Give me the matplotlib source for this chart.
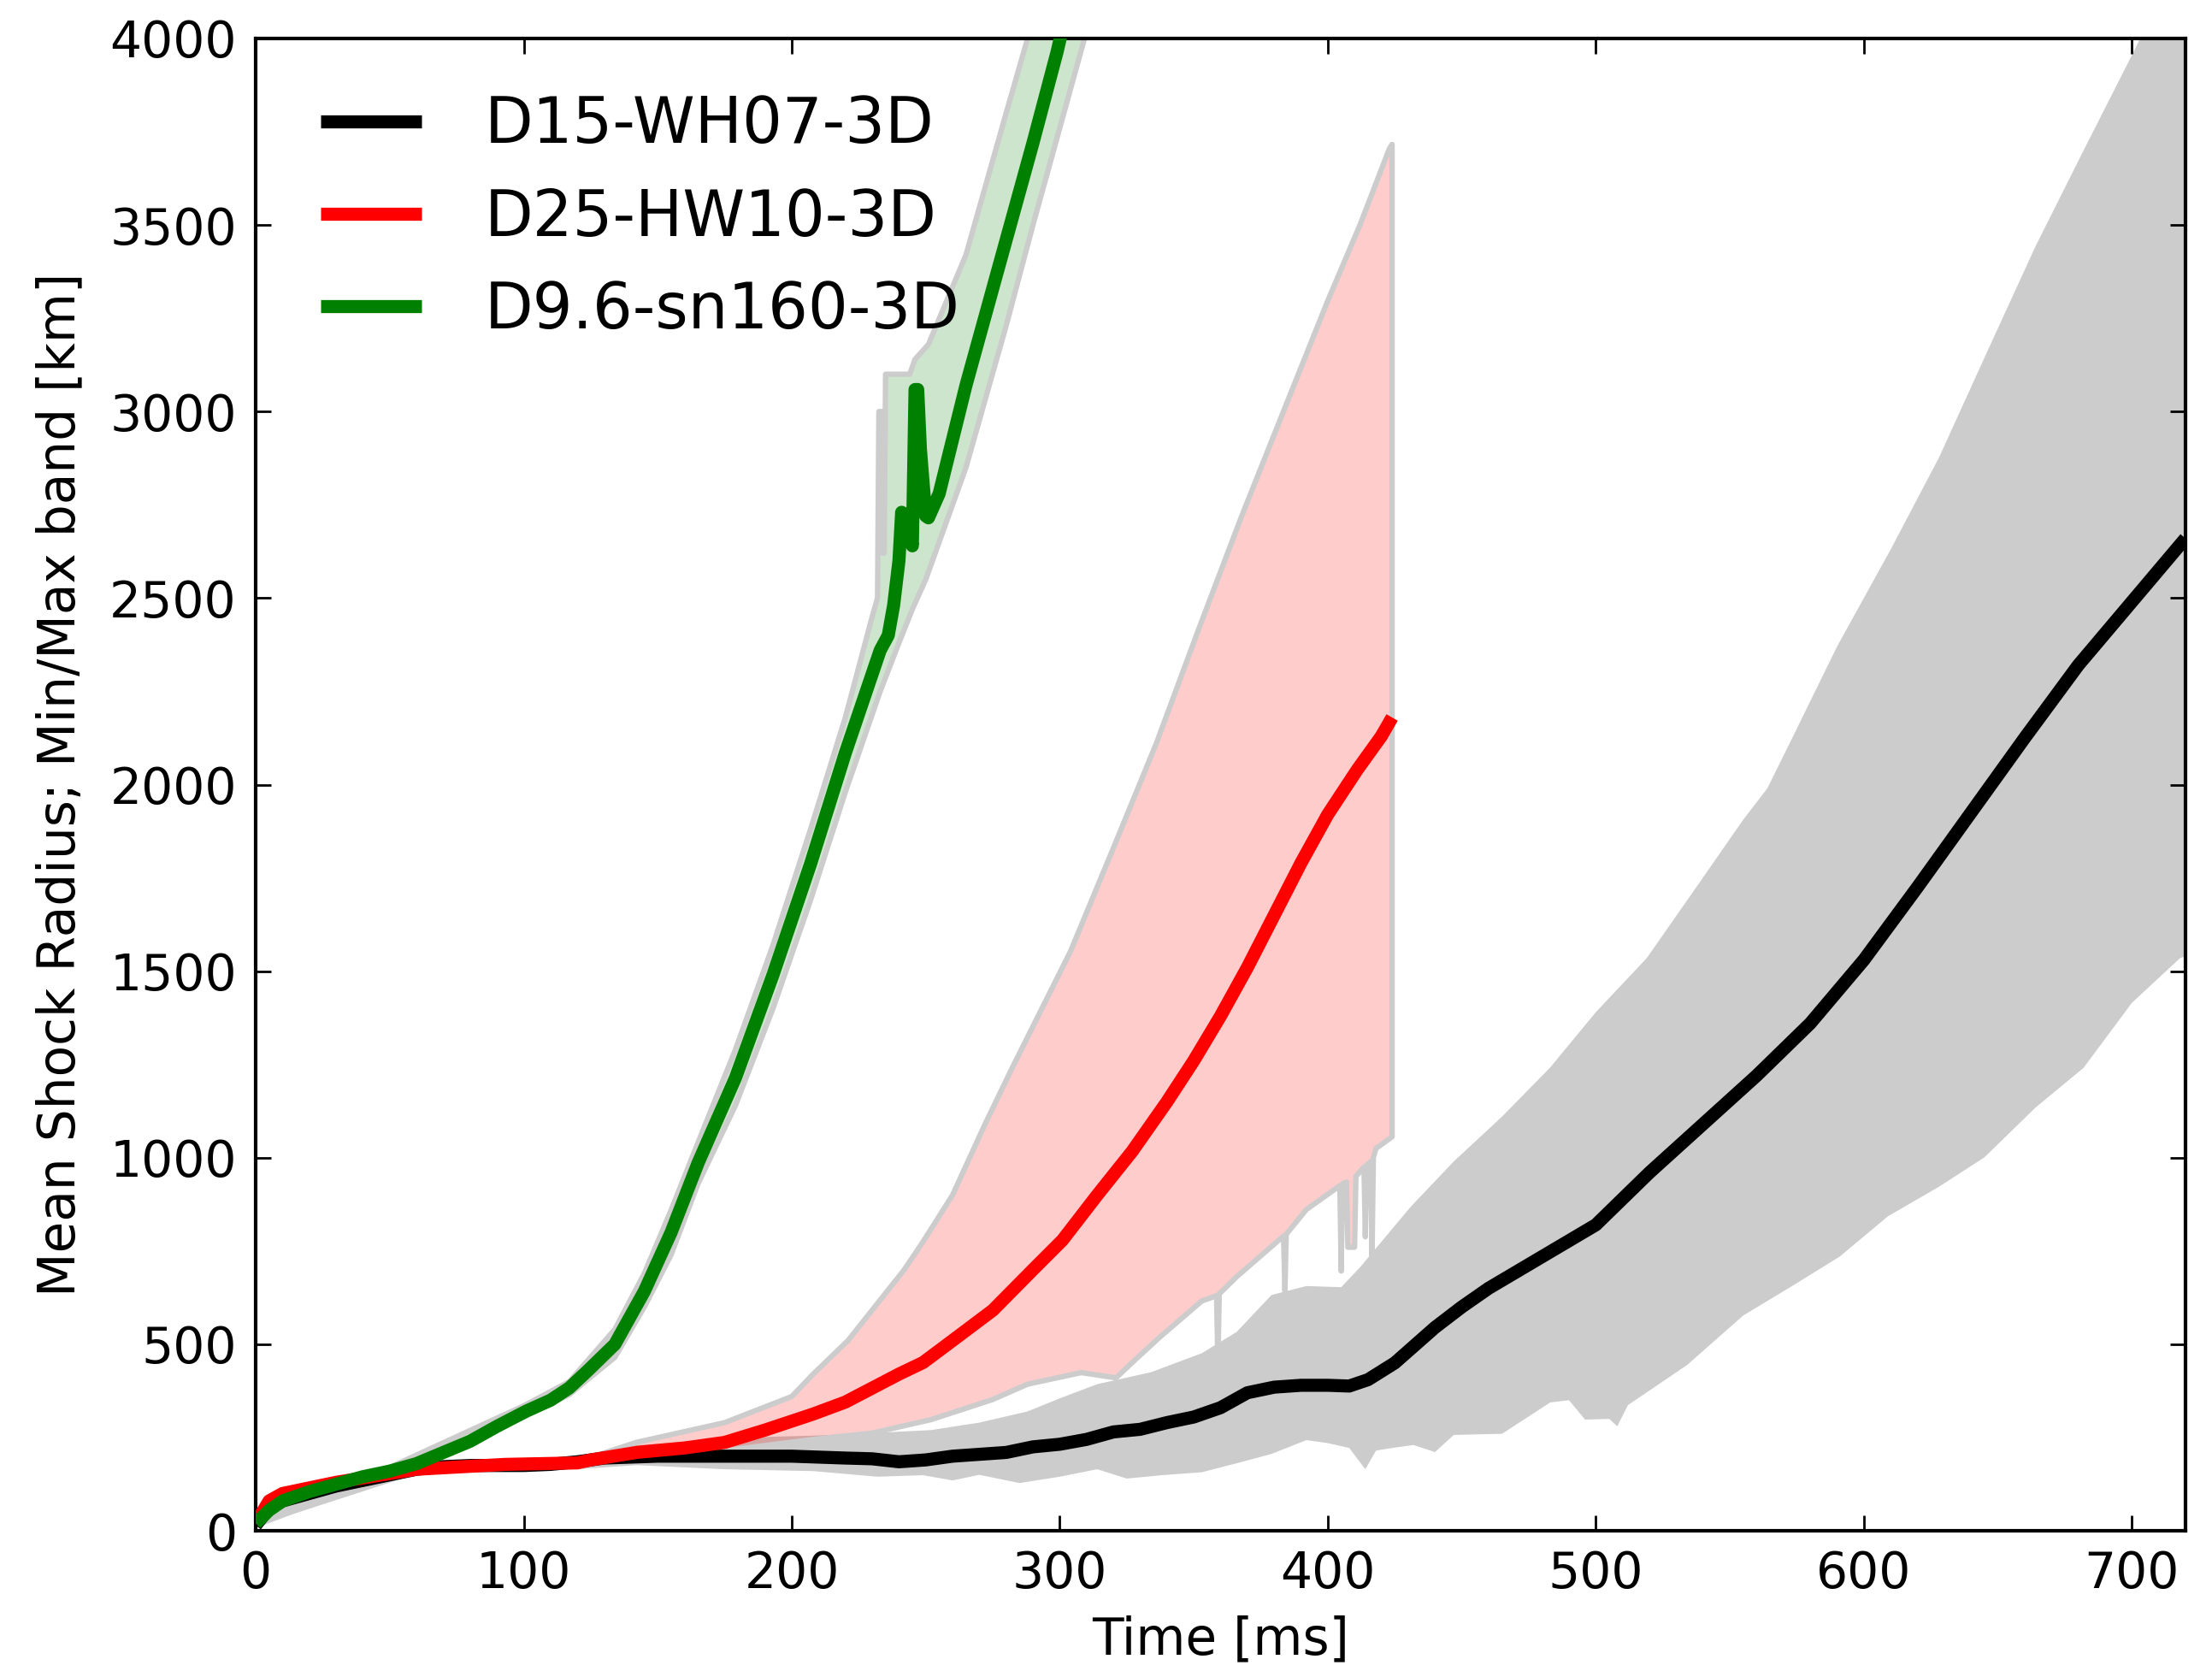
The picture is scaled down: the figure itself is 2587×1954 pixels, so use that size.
import numpy as np
import matplotlib
matplotlib.use("Agg")
import matplotlib.pyplot as plt

plt.rcParams['font.family'] = ['DejaVu Sans']

# ---- D15-WH07-3D : mean shock radius and min/max band ----
t_d15 = [0, 5, 10, 20, 30, 40, 50, 60, 70, 80, 100, 110, 120, 130, 150, 180, 200, 220, 230,
         240, 250, 260, 270, 280, 290, 300, 310, 320, 330, 340, 350, 360, 370, 380, 390, 400,
         408, 415, 425, 440, 450, 460, 480, 500, 520, 540, 560, 580, 600, 620, 640, 660, 680,
         700, 720]
r_d15 = [15, 60, 80, 100, 120, 135, 150, 165, 172, 175, 175, 178, 185, 195, 200, 200, 200, 195, 193,
         185, 190, 200, 205, 210, 225, 232, 245, 265, 272, 290, 305, 330, 370, 385, 390, 390,
         388, 405, 450, 545, 600, 650, 735, 820, 960, 1090, 1220, 1360, 1530, 1725, 1925, 2125, 2320,
         2490, 2660]

t_d15_max = [0, 50, 100, 120, 142, 170, 192, 208, 230, 252, 270, 288, 300, 314, 334, 353, 366, 379,
             392, 405, 412, 431, 447, 465, 483, 500, 519, 537, 555, 564, 575, 590, 610, 628, 646,
             664, 682, 700, 710, 720]
r_d15_max = [20, 155, 180, 190, 229, 245, 252, 255, 262, 270, 290, 320, 355, 393, 425, 476, 533, 632,
             656, 653, 706, 869, 990, 1110, 1242, 1390, 1535, 1720, 1906, 1990, 2150, 2370, 2630, 2876, 3160,
             3442, 3700, 3955, 4100, 4250]

t_d15_min = [0, 50, 100, 120, 142, 175, 208, 232, 249, 260, 270, 285, 300, 314, 325, 338, 353, 366,
             379, 392, 400, 408, 414, 418, 424, 432, 440, 447, 465, 483, 490, 496, 505, 508, 512,
             534, 555, 573, 591, 609, 628, 645, 664, 682, 700, 718, 720]
r_d15_min = [10, 145, 168, 165, 176, 165, 160, 145, 149, 135, 150, 128, 145, 165, 140, 149, 157, 181,
             206, 243, 235, 222, 165, 215, 222, 230, 211, 257, 260, 344, 350, 298, 300, 280, 337,
             444, 577, 655, 735, 843, 922, 1001, 1134, 1241, 1415, 1535, 1540]

# ---- D25-HW10-3D ----
t_d25 = [0, 5, 10, 30, 60, 93, 120, 125, 142, 160, 175, 190, 208, 220, 240, 249, 260, 275, 290,
         301, 314, 327, 340, 350, 360, 370, 380, 390, 400, 411, 420, 424]
r_d25 = [20, 80, 100, 130, 165, 178, 182, 190, 210, 222, 237, 270, 313, 345, 420, 451, 510, 591, 700,
         779, 900, 1017, 1150, 1260, 1380, 1510, 1650, 1790, 1920, 2040, 2130, 2180]

t_d25_max = [0, 60, 100, 120, 142, 175, 200, 208, 221, 242, 249, 260, 272, 282, 304, 320, 336, 352,
             368, 384, 400, 412, 423, 424]
r_d25_max = [20, 170, 178, 185, 237, 290, 360, 420, 510, 700, 775, 900, 1088, 1237, 1553, 1830, 2110, 2420,
             2722, 3010, 3297, 3500, 3705, 3716]

t_d25_min = [0, 60, 100, 120, 150, 175, 208, 230, 252, 275, 288, 308, 321, 327, 337, 353, 358.5, 359,
             359.5, 366, 379, 383.5, 384, 384.5, 392, 404.5, 405, 405.5, 407, 407.5, 410, 410.5, 413.5,
             414, 414.5, 416, 416.5, 417, 418, 424]
r_d25_min = [20, 160, 172, 178, 195, 215, 245, 262, 298, 352, 393, 424, 410, 451, 517, 616, 630, 447,
             635, 681, 762, 790, 643, 795, 861, 925, 696, 930, 935, 760, 760, 950, 975,
             788, 980, 990, 731, 1000, 1025, 1056]

# ---- D9.6-sn160-3D ----
t_d96 = [0, 5, 10, 20, 30, 40, 50, 60, 71, 80, 90, 101, 110, 117, 124, 134, 145, 155, 165, 179, 193,
         207, 220, 233, 236, 238, 240, 241, 243, 245, 246, 247, 248, 250, 251, 255, 265, 280, 290,
         299, 305]
r_d96 = [20, 55, 80, 105, 125, 145, 160, 180, 213, 240, 280, 321, 350, 383, 430, 500, 642, 800, 985, 1214, 1490,
         1787, 2085, 2360, 2400, 2480, 2600, 2730, 2720, 2640, 3059, 3059, 2900, 2720, 2715, 2780, 3070, 3460, 3720,
         3964, 4150]

t_d96_max = [0, 50, 100, 117, 134, 145, 155, 165, 179, 193, 207, 220, 230, 232, 232.5, 233.5, 234, 234.5,
             235, 244, 246, 251, 265, 280, 290, 300, 310]
r_d96_max = [25, 170, 335, 400, 540, 690, 860, 1040, 1290, 1570, 1880, 2180, 2450, 2500, 3000, 3000, 2620, 2620,
             3100, 3100, 3140, 3180, 3420, 3800, 4050, 4300, 4500]

t_d96_min = [0, 50, 100, 117, 134, 145, 155, 165, 179, 193, 207, 220, 233, 240, 245, 250, 265, 280, 290,
             300, 310]
r_d96_min = [15, 150, 305, 365, 465, 600, 740, 930, 1140, 1400, 1690, 1980, 2250, 2380, 2470, 2550, 2850, 3230, 3500,
             3760, 4020]

labels = ['D15-WH07-3D', 'D25-HW10-3D', 'D9.6-sn160-3D']
colors = ['black', 'red', 'green']

fig = plt.figure(figsize=(25.87, 19.54), dpi=100)
ax = fig.add_axes([0.1156, 0.0839, 0.988 - 0.1156, 0.977 - 0.0839])

edge_gray = '#cccccc'


def band(t_hi, r_hi, t_lo, r_lo, color, alpha, edge):
    xs = np.concatenate([np.asarray(t_hi, float), np.asarray(t_lo, float)[::-1]])
    ys = np.concatenate([np.asarray(r_hi, float), np.asarray(r_lo, float)[::-1]])
    ax.fill(xs, ys, facecolor=color, alpha=alpha, edgecolor='none', zorder=1)
    if edge:
        ax.plot(xs, ys, color=edge_gray, lw=4.5, zorder=1.5)


band(t_d15_max, r_d15_max, t_d15_min, r_d15_min, 'black', 0.2, False)
band(t_d25_max, r_d25_max, t_d25_min, r_d25_min, 'red', 0.2, True)
band(t_d96_max, r_d96_max, t_d96_min, r_d96_min, 'green', 0.2, True)

series = [(t_d15, r_d15), (t_d25, r_d25), (t_d96, r_d96)]
for (tt, rr), lab, c in zip(series, labels, colors):
    ax.plot(tt, rr, color=c, lw=11, label=lab, solid_capstyle='butt', zorder=3)

ax.set_xlim(0, 720)
ax.set_ylim(0, 4000)
ax.set_xticks(np.arange(0, 701, 100))
ax.set_yticks(np.arange(0, 4001, 500))
ax.tick_params(direction='in', top=True, right=True, length=13, width=2.0,
               labelsize=42, pad=16)
for s in ax.spines.values():
    s.set_linewidth(3)

ax.set_xlabel('Time [ms]', fontsize=43, labelpad=14)
ax.set_ylabel('Mean Shock Radius; Min/Max band [km]', fontsize=43, labelpad=20)

ax.legend(loc='upper left', frameon=False, fontsize=53, handlelength=1.6,
          handletextpad=1.0, labelspacing=0.48, borderaxespad=0.3,
          bbox_to_anchor=(0.011, 0.992))

fig.savefig('out.png', dpi=100)
